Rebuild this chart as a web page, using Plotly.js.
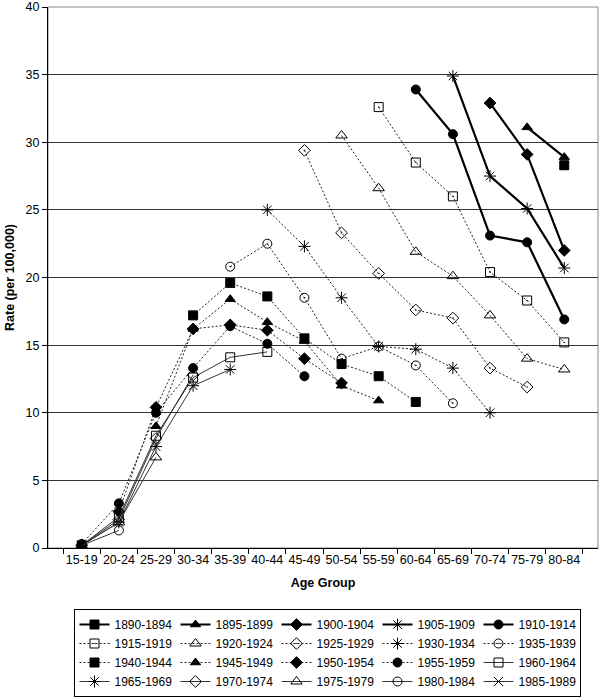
<!DOCTYPE html>
<html>
<head>
<meta charset="utf-8">
<script src="https://cdn.plot.ly/plotly-3.0.1.min.js"></script>
<style>html,body{margin:0;padding:0;background:#fff;}#chart{width:600px;height:698px;}</style>
</head>
<body>
<div id="chart"></div>
<script>
var ages = ['15-19','20-24','25-29','30-34','35-39','40-44','45-49','50-54','55-59','60-64','65-69','70-74','75-79','80-84'];
var cohorts = ['1890-1894','1895-1899','1900-1904','1905-1909','1910-1914','1915-1919','1920-1924','1925-1929','1930-1934','1935-1939','1940-1944','1945-1949','1950-1954','1955-1959','1960-1964','1965-1969','1970-1974','1975-1979','1980-1984','1985-1989'];
var _ = null;
var c1890 = [_,_,_,_,_,_,_,_,_,_,_,_,_,28.3];
var c1895 = [_,_,_,_,_,_,_,_,_,_,_,_,31.1,28.9];
var c1900 = [_,_,_,_,_,_,_,_,_,_,_,32.9,29.1,22.0];
var c1905 = [_,_,_,_,_,_,_,_,_,_,34.9,27.5,25.1,20.7];
var c1910 = [_,_,_,_,_,_,_,_,_,33.9,30.6,23.1,22.6,16.9];
var c1915 = [_,_,_,_,_,_,_,_,32.6,28.5,26.0,20.4,18.3,15.2];
var c1920 = [_,_,_,_,_,_,_,30.5,26.6,21.9,20.1,17.2,14.0,13.2];
var c1925 = [_,_,_,_,_,_,29.4,23.3,20.3,17.6,17.0,13.3,11.9,_];
var c1930 = [_,_,_,_,_,25.0,22.3,18.5,14.9,14.7,13.3,10.0,_,_];
var c1935 = [_,_,_,_,20.8,22.5,18.5,14.0,14.9,13.5,10.7,_,_,_];
var c1940 = [_,_,_,17.2,19.6,18.6,15.5,13.6,12.7,10.8,_,_,_,_];
var c1945 = [_,_,9.0,16.2,18.4,16.7,15.3,12.0,10.9,_,_,_,_,_];
var c1950 = [_,2.7,10.4,16.2,16.5,16.1,14.0,12.2,_,_,_,_,_,_];
var c1955 = [0.3,3.3,10.0,13.3,16.4,15.1,12.7,_,_,_,_,_,_,_];
var c1960 = [0.2,2.3,8.3,12.6,14.1,14.5,_,_,_,_,_,_,_,_];
var c1965 = [0.2,1.9,7.5,12.0,13.2,_,_,_,_,_,_,_,_,_];
var c1970 = [0.2,2.1,8.1,12.8,_,_,_,_,_,_,_,_,_,_];
var c1975 = [0.2,1.9,6.7,_,_,_,_,_,_,_,_,_,_,_];
var c1980 = [0.2,1.3,_,_,_,_,_,_,_,_,_,_,_,_];
var c1985 = [0.2,_,_,_,_,_,_,_,_,_,_,_,_,_];
var values = [c1890,c1895,c1900,c1905,c1910,c1915,c1920,c1925,c1930,c1935,c1940,c1945,c1950,c1955,c1960,c1965,c1970,c1975,c1980,c1985];

var symbols = ['square','triangle-up','diamond','asterisk-open','circle',
               'square-open-dot','triangle-up-open','diamond-open-dot','asterisk-open','circle-open-dot',
               'square','triangle-up','diamond','circle','square-open',
               'asterisk-open','diamond-open','triangle-up-open','circle-open','x-thin-open'];
var sizes = [9,9,9,10,9, 9,10,9,10,9, 9,9,9,9,9, 10,9,10,9,9];

var traces = cohorts.map(function(name,i){
  var group = i<5 ? 0 : (i<14 ? 1 : 2);
  var line = group===0 ? {color:'#000',width:2.2,dash:'solid'}
           : group===1 ? {color:'#222',width:1,dash:'2px,2px'}
           : {color:'#333',width:1,dash:'solid'};
  return {
    type:'scatter', mode:'lines+markers', name:name,
    x:ages, y:values[i], connectgaps:false,
    line:line,
    marker:{symbol:symbols[i], size:sizes[i], color:'#000', line:{color:'#000',width:1}}
  };
});

var layout = {
  width:600, height:698,
  margin:{l:48,r:2,t:7,b:150},
  paper_bgcolor:'#fff', plot_bgcolor:'#fff',
  font:{family:'Liberation Sans, Arial, sans-serif', size:12, color:'#000'},
  showlegend:true,
  legend:{orientation:'h', xref:'container', yref:'container',
          x:0.545, xanchor:'center', y:0.1275, yanchor:'top',
          bordercolor:'#000', borderwidth:1, font:{size:12},
          entrywidth:56, entrywidthmode:'pixels', tracegroupgap:0, itemwidth:30},
  xaxis:{type:'category', categoryorder:'array', categoryarray:ages,
         showline:true, linecolor:'#000', linewidth:1, tickangle:0,
         ticks:'outside', tickson:'boundaries', ticklen:5, tickcolor:'#000',
         showgrid:false, tickfont:{size:12.5},
         title:{text:'<b>Age Group</b>', font:{size:12.5}, standoff:12}},
  yaxis:{range:[0,40], dtick:5, showline:true, linecolor:'#000', linewidth:1,
         ticks:'outside', ticklen:5, tickcolor:'#000',
         showgrid:true, gridcolor:'#333', gridwidth:1, zeroline:false,
         tickfont:{size:12.5},
         title:{text:'<b>Rate (per 100,000)</b>', font:{size:12.5}, standoff:8}},
  shapes:[{type:'rect', xref:'paper', yref:'paper', x0:0, x1:1, y0:0, y1:1,
           line:{color:'#888', width:1}, layer:'below'}]
};

Plotly.newPlot('chart', traces, layout, {displayModeBar:false, staticPlot:true});
</script>
</body>
</html>
